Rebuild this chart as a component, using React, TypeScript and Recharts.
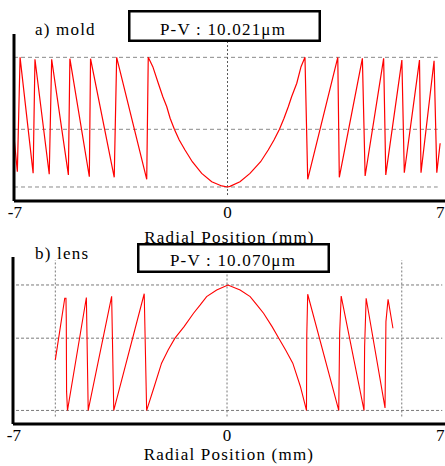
import React from 'react';
import { LineChart, Line, XAxis, YAxis, ReferenceLine, Label } from 'recharts';

// ---- a) mold profile (radial position mm, height µm) ----
const moldX = [
  -7.03, -6.92, -6.83, -6.40, -6.34, -5.87, -5.79, -5.24, -5.19, -4.55, -4.51,
  -3.73, -3.65, -2.66, -2.61, -2.46, -2.28, -2.13, -2.00, -1.89, -1.75, -1.59,
  -1.40, -1.16, -0.85, -0.52, -0.19, 0, 0.08, 0.41, 0.74, 1.09, 1.34, 1.53,
  1.71, 1.86, 2.00, 2.11, 2.28, 2.42, 2.55, 2.64, 3.63, 3.68, 4.44,
  4.53, 5.14, 5.21, 5.74, 5.82, 6.32, 6.37, 6.80, 6.89, 7.00,
];
const moldY = [
  3.88, 1.18, 10.0, 1.06, 9.85, 0.98, 9.85, 0.93, 9.9, 0.79, 9.9,
  0.75, 10.0, 0.59, 10.0, 9.28, 8.0, 6.96, 6.19, 5.30, 4.45, 3.62,
  2.85, 1.95, 1.05, 0.41, 0.08, 0, 0.05, 0.41, 1.05, 1.95, 2.85, 3.62,
  4.45, 5.30, 6.19, 6.96, 8.0, 9.28, 10.0, 0.59, 10.0, 0.75, 9.92,
  0.85, 9.92, 0.93, 9.79, 1.1, 9.79, 1.1, 9.74, 1.1, 3.37,
];

// ---- b) lens profile ----
const lensX = [
  -5.64, -5.33, -5.29, -5.28, -5.27, -5.24, -4.62, -4.56, -3.79, -3.72, -2.72,
  -2.64, -2.39, -2.15, -1.93, -1.71, -1.41, -1.10, -0.88, -0.67, -0.34, 0.03,
  0.43, 0.76, 0.98, 1.20, 1.48, 1.70, 1.92, 2.16, 2.41, 2.61, 2.62,
  2.65, 3.67, 3.70, 3.75, 4.50, 4.52, 4.57, 5.19, 5.22, 5.29, 5.33, 5.45,
];
const lensY = [
  4.03, 8.94, 8.94, 7.35, 1.5, 0, 9.0, 0, 9.1, 0, 9.3,
  0, 1.91, 3.77, 4.83, 5.76, 6.68, 7.75, 8.41, 9.07, 9.6, 10,
  9.6, 9.07, 8.41, 7.75, 6.68, 5.76, 4.83, 3.77, 1.91, 0, 6.0,
  9.26, 0, 6.15, 9.12, 0, 5.1, 8.94, 0.2, 7.08, 8.86, 8.3, 6.55,
];

const xTicks = [-7, 0, 7];
const moldGridY = [0, 4.45, 10];
const moldGridSpan = [-7.03, 6.92];
const lensGridY = [0, 5.76, 10];
const lensGridSpan = [-6.93, 7.07];
const lensGuideX = [-5.64, 0, 5.74];

const moldTitle = 'a) mold';
const lensTitle = 'b) lens';
const moldPV = 'P-V : 10.021\u03bcm';
const lensPV = 'P-V : 10.070\u03bcm';
const xLabel = 'Radial Position (mm)';

const FONT = '"Liberation Serif", "DejaVu Serif", serif';
const LS = '1.2px';

export default function App() {
  const moldData = moldX.map((x, i) => ({ x, y: moldY[i] }));
  const lensData = lensX.map((x, i) => ({ x, y: lensY[i] }));
  const tickStyle = { fill: '#000', fontSize: 17, fontFamily: FONT };
  const labelStyle = { fill: '#000', fontSize: 17, fontFamily: FONT, letterSpacing: LS };

  return (
    <div style={{ position: 'absolute', left: 0, top: 0, width: 445, height: 466, background: '#fff', fontFamily: FONT }}>
      <div style={{ position: 'absolute', left: 0, top: 0 }}>
        <LineChart width={445} height={250} data={moldData} margin={{ top: 34, right: 0, bottom: 0, left: 13 }}>
          <XAxis
            dataKey="x"
            type="number"
            domain={[-7.03, 7.16]}
            ticks={xTicks}
            interval={0}
            allowDataOverflow
            height={49}
            tickLine={false}
            tickSize={0}
            tickMargin={5}
            axisLine={{ stroke: '#000', strokeWidth: 3 }}
            stroke="#000"
            tick={tickStyle}
          >
            <Label value={xLabel} position="insideBottom" offset={7} style={labelStyle} />
          </XAxis>
          <YAxis
            type="number"
            domain={[-1.08, 11.8]}
            ticks={moldGridY}
            allowDataOverflow
            width={1}
            tick={false}
            tickLine={false}
            axisLine={{ stroke: '#000', strokeWidth: 3 }}
            stroke="#000"
          />
          {moldGridY.map((gy) => (
            <ReferenceLine
              key={'g' + gy}
              segment={[{ x: moldGridSpan[0], y: gy }, { x: moldGridSpan[1], y: gy }]}
              stroke="#8a8a8a"
              strokeDasharray="4 3"
            />
          ))}
          <ReferenceLine
            segment={[{ x: 0, y: -0.62 }, { x: 0, y: 11.18 }]}
            stroke="#555"
            strokeDasharray="2 2"
          />
          <Line type="linear" dataKey="y" stroke="#ff0000" strokeWidth={1.2} dot={false} isAnimationActive={false} />
        </LineChart>
      </div>

      <div style={{ position: 'absolute', left: 0, top: 240 }}>
        <LineChart width={445} height={226} data={lensData} margin={{ top: 17, right: 0, bottom: 0, left: 12 }}>
          <XAxis
            dataKey="x"
            type="number"
            domain={[-7.03, 7.16]}
            ticks={xTicks}
            interval={0}
            allowDataOverflow
            height={42}
            tickLine={false}
            tickSize={0}
            tickMargin={5}
            axisLine={{ stroke: '#000', strokeWidth: 3 }}
            stroke="#000"
            tick={tickStyle}
          >
            <Label value={xLabel} position="insideBottom" offset={6} style={labelStyle} />
          </XAxis>
          <YAxis
            type="number"
            domain={[-1.08, 12.23]}
            ticks={lensGridY}
            allowDataOverflow
            width={1}
            tick={false}
            tickLine={false}
            axisLine={{ stroke: '#000', strokeWidth: 3 }}
            stroke="#000"
          />
          {lensGridY.map((gy) => (
            <ReferenceLine
              key={'g' + gy}
              segment={[{ x: lensGridSpan[0], y: gy }, { x: lensGridSpan[1], y: gy }]}
              stroke="#7a7a7a"
              strokeDasharray="3 2"
            />
          ))}
          {lensGuideX.map((gx) => (
            <ReferenceLine
              key={'v' + gx}
              segment={[{ x: gx, y: -0.48 }, { x: gx, y: 11.99 }]}
              stroke="#777"
              strokeDasharray="2 2"
            />
          ))}
          <Line type="linear" dataKey="y" stroke="#ff0000" strokeWidth={1.1} dot={false} isAnimationActive={false} />
        </LineChart>
      </div>

      <svg
        width={445}
        height={466}
        style={{ position: 'absolute', left: 0, top: 0, pointerEvents: 'none', fontFamily: FONT }}
      >
        <text x={35} y={35} fontSize={17} fill="#000" style={{ letterSpacing: LS }}>{moldTitle}</text>
        <rect x={129.25} y={11.25} width={190.5} height={29.5} fill="#fff" stroke="#000" strokeWidth={2.5} />
        <text x={223} y={35} fontSize={17} fill="#000" textAnchor="middle" style={{ letterSpacing: LS }}>{moldPV}</text>

        <text x={35} y={259} fontSize={17} fill="#000" style={{ letterSpacing: LS }}>{lensTitle}</text>
        <rect x={138.25} y={244.25} width={190.5} height={27.5} fill="#fff" stroke="#000" strokeWidth={2.5} />
        <text x={233} y={266} fontSize={17} fill="#000" textAnchor="middle" style={{ letterSpacing: LS }}>{lensPV}</text>
      </svg>
    </div>
  );
}
